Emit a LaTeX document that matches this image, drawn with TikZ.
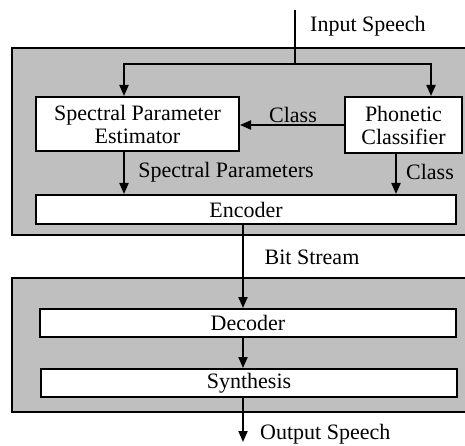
\documentclass[tikz,border=0pt]{standalone}
\usepackage{fontspec}
\setmainfont{Liberation Serif}
\usetikzlibrary{arrows.meta}
\begin{document}
\begin{tikzpicture}[x=1pt,y=-1pt,
  blk/.style={draw,line width=2pt,fill=white,inner sep=0pt,align=center,font=\fontsize{22}{23}\selectfont},
  panel/.style={draw,line width=2pt,fill=black!25},
  arr/.style={line width=2pt,-{Triangle[length=11pt,width=9pt]}},
  ln/.style={line width=2pt},
  lbl/.style={inner sep=0pt,font=\fontsize{22}{23}\selectfont}]
\useasboundingbox (0,0) rectangle (465,446);
\fill[white] (0,0) rectangle (465,446);
\draw[panel] (12,48) rectangle (472,235);
\draw[panel] (12,278) rectangle (472,412);
\node[blk,minimum width=203pt,minimum height=54pt] (spe) at (137.5,124) {Spectral Parameter\\Estimator};
\node[blk,minimum width=117pt,minimum height=56pt] (pc) at (403.5,125) {Phonetic\\Classifier};
\node[blk,minimum width=420pt,minimum height=29pt] (enc) at (246,209.5) {Encoder};
\node[blk,minimum width=416pt,minimum height=28pt] (dec) at (248,323) {Decoder};
\node[blk,minimum width=416pt,minimum height=28pt] (syn) at (249,383) {Synthesis};
\coordinate (in) at (295,10);
\coordinate (j) at (295,64);
\coordinate (out) at (243,442);
\draw[ln] (in) -- (j);
\draw[arr] (j) -| ([xshift=-13.5pt]spe.north);
\draw[arr] (j) -| ([xshift=27.5pt]pc.north);
\draw[arr] (pc.west) -- (pc.west -| spe.east);
\draw[arr] ([xshift=-13.5pt]spe.south) -- ([xshift=-13.5pt]spe.south |- enc.north);
\draw[arr] ([xshift=-7.5pt]pc.south) -- ([xshift=-7.5pt]pc.south |- enc.north);
\draw[arr] ([xshift=-3pt]enc.south) -- ([xshift=-5pt]dec.north);
\draw[arr] ([xshift=-5pt]dec.south) -- ([xshift=-6pt]syn.north);
\draw[arr] ([xshift=-6pt]syn.south) -- (out);
\node[lbl,anchor=west] (tin) at (310,26) {Input Speech};
\node[lbl] (tc1) at (293,115) {Class};
\node[lbl] (tsp) at (226,172) {Spectral Parameters};
\node[lbl] (tc2) at (430,172) {Class};
\node[lbl] (tbs) at (312,257) {Bit Stream};
\node[lbl,anchor=west] (tout) at (260,434) {Output Speech};
\end{tikzpicture}
\end{document}
